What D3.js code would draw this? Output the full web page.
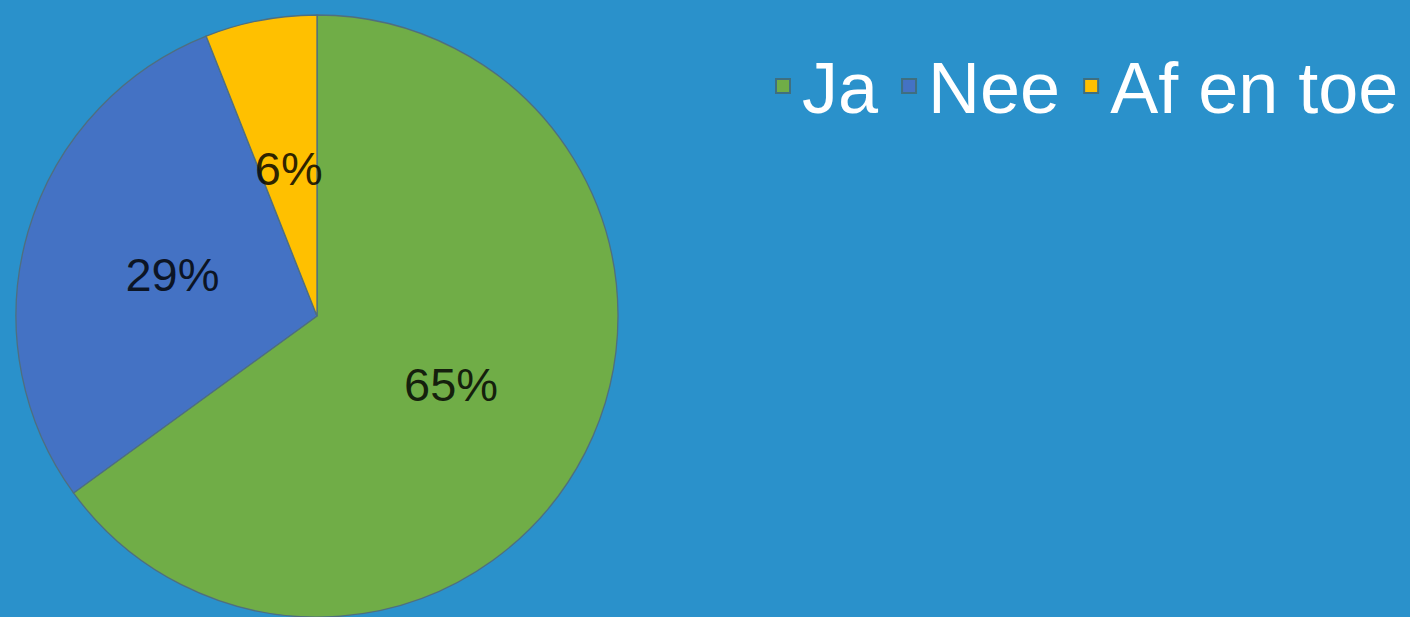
<!DOCTYPE html>
<html>
<head>
<meta charset="utf-8">
<script src="https://cdn.jsdelivr.net/npm/d3@7"></script>
<style>
  html, body { margin: 0; padding: 0; background: #2A91CB; overflow: hidden; }
  text { font-family: "Liberation Sans", Arial, sans-serif; }
</style>
</head>
<body>
<div id="pie-chart"></div>
<script>
// chart data
const categories = ["Ja", "Nee", "Af en toe"];
const values = [65, 29, 6];
const labels = ["65%", "29%", "6%"];
const colors = ["#70AD47", "#4472C4", "#FFC000"];

function draw() {
  const width = 1410;
  const height = 617;

  const svg = d3.select("#pie-chart")
    .append("svg")
    .attr("width", width)
    .attr("height", height);

  svg.append("rect")
    .attr("width", width)
    .attr("height", height)
    .attr("fill", "#2A91CB");

  const data = categories.map((c, i) => ({ name: c, value: values[i], label: labels[i] }));

  // pie centre and radius
  const cx = 317, cy = 316;
  const radius = 301;

  const pie = d3.pie()
    .value(d => d.value)
    .sort(null);

  const slices = pie(data);

  const arc = d3.arc()
    .innerRadius(0)
    .outerRadius(radius);

  const labelArc = d3.arc()
    .innerRadius(radius * 0.5)
    .outerRadius(radius * 0.5);

  const colorScale = d3.scaleOrdinal()
    .domain(categories)
    .range(colors);

  const pieGroup = svg.append("g")
    .attr("transform", `translate(${cx}, ${cy})`);

  pieGroup.selectAll("path")
    .data(slices)
    .join("path")
    .attr("d", arc)
    .attr("fill", d => colorScale(d.data.name))
    .attr("stroke", "#4f6f7f")
    .attr("stroke-width", 1.3);

  pieGroup.selectAll("text")
    .data(slices)
    .join("text")
    .attr("transform", d => `translate(${labelArc.centroid(d)})`)
    .attr("text-anchor", "middle")
    .attr("dy", "0.36em")
    .attr("font-size", 47)
    .attr("fill", "#000")
    .attr("fill-opacity", 0.82)
    .text(d => d.data.label);

  // legend in a single row
  const legend = svg.append("g")
    .attr("transform", "translate(775, 113)");

  let x = 0;
  data.forEach(d => {
    const item = legend.append("g").attr("transform", `translate(${x}, 0)`);
    item.append("rect")
      .attr("x", 1)
      .attr("y", -34)
      .attr("width", 14)
      .attr("height", 14)
      .attr("fill", colorScale(d.name))
      .attr("stroke", "#3f6f80")
      .attr("stroke-width", 2);
    const t = item.append("text")
      .attr("x", 27)
      .attr("y", 0)
      .attr("font-size", 72)
      .attr("fill", "#ffffff")
      .text(d.name);
    x += 27 + t.node().getComputedTextLength() + 23;
  });
}

draw();
</script>
</body>
</html>
